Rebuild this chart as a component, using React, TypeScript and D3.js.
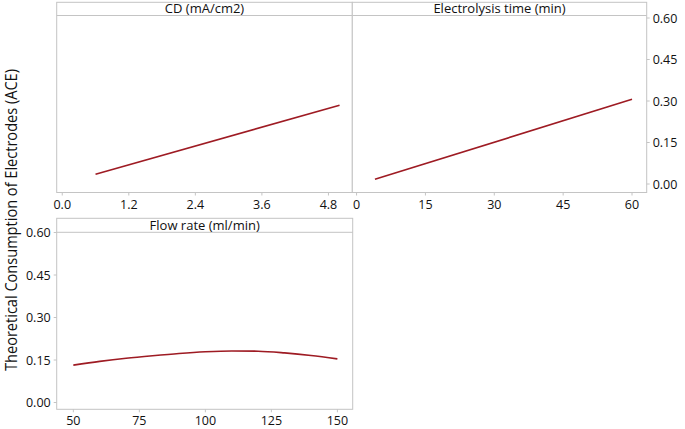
import React from "react";
import * as d3 from "d3";

const cdX = [0.6, 5.0];
const cdY = [0.035, 0.285];
const timeX = [4, 60];
const timeY = [0.017, 0.306];
const flowX = [50, 60, 70, 80, 90, 100, 110, 120, 130, 140, 150];
const flowY = [0.132, 0.145, 0.156, 0.165, 0.173, 0.179, 0.182, 0.181, 0.175, 0.166, 0.154];

const cdTicks = [0, 1.2, 2.4, 3.6, 4.8];
const timeTicks = [0, 15, 30, 45, 60];
const flowTicks = [50, 75, 100, 125, 150];
const yTicks = [0, 0.15, 0.3, 0.45, 0.6];

const titles = ["CD (mA/cm2)", "Electrolysis time (min)", "Flow rate (ml/min)"];
const yTitle = "Theoretical Consumption of Electrodes (ACE)";

const FONT = "'Open Sans', 'Noto Sans', sans-serif";
const FRAME = "#c4c4c4";
const LINE = "#9e1b23";
const TEXT = "#111";

type PanelProps = {
  left: number; right: number; top: number; stripBottom: number; bottom: number;
  xDomain: [number, number]; yRange: [number, number];
  xs: number[]; ys: number[]; xTicks: number[]; xFmt: (v: number) => string;
  title: string; yAxis: "left" | "right" | "none"; curved?: boolean;
};

function Panel(p: PanelProps) {
  const x = d3.scaleLinear().domain(p.xDomain).range([p.left, p.right]);
  const y = d3.scaleLinear().domain([0, 0.6]).range(p.yRange);
  const pts = p.xs.map((v, i) => [v, p.ys[i]] as [number, number]);
  const line = d3.line<[number, number]>()
    .x(d => x(d[0])).y(d => y(d[1]))
    .curve(p.curved ? d3.curveMonotoneX : d3.curveLinear);
  return (
    <g>
      <rect x={p.left} y={p.top} width={p.right - p.left} height={p.bottom - p.top}
        fill="white" stroke={FRAME} strokeWidth={1} />
      <line x1={p.left} x2={p.right} y1={p.stripBottom} y2={p.stripBottom} stroke={FRAME} />
      <text x={(p.left + p.right) / 2} y={p.stripBottom - 2.5} textAnchor="middle"
        fontFamily={FONT} fontSize={13} fill={TEXT}>{p.title}</text>
      <path d={line(pts) || ""} fill="none" stroke={LINE} strokeWidth={1.6} />
      {p.xTicks.map(t => (
        <g key={t}>
          <line x1={x(t)} x2={x(t)} y1={p.bottom} y2={p.bottom + 3} stroke={FRAME} />
          <text x={x(t)} y={p.bottom + 16} textAnchor="middle" fontFamily={FONT}
            fontSize={12.5} fill={TEXT}>{p.xFmt(t)}</text>
        </g>
      ))}
      {p.yAxis !== "none" && yTicks.map(t => (
        <g key={t}>
          {p.yAxis === "right" ? (
            <>
              <line x1={p.right} x2={p.right + 3} y1={y(t)} y2={y(t)} stroke={FRAME} />
              <text x={p.right + 6} y={y(t) + 4.5} textAnchor="start" fontFamily={FONT}
                fontSize={12.5} fill={TEXT}>{d3.format(".2f")(t)}</text>
            </>
          ) : (
            <>
              <line x1={p.left - 3} x2={p.left} y1={y(t)} y2={y(t)} stroke={FRAME} />
              <text x={p.left - 6} y={y(t) + 4.5} textAnchor="end" fontFamily={FONT}
                fontSize={12.5} fill={TEXT}>{d3.format(".2f")(t)}</text>
            </>
          )}
        </g>
      ))}
    </g>
  );
}

export default function App() {
  return (
    <svg width={685} height={429} style={{ position: "absolute", left: 0, top: 0, background: "white" }}>
      <Panel left={56.7} right={352.3} top={2.3} stripBottom={15.5} bottom={192.5}
        xDomain={[-0.1, 5.23]} yRange={[184, 18]} xs={cdX} ys={cdY}
        xTicks={cdTicks} xFmt={d3.format(".1f")} title={titles[0]} yAxis="none" />
      <Panel left={352.3} right={646.7} top={2.3} stripBottom={15.5} bottom={192.5}
        xDomain={[-0.93, 63.2]} yRange={[184, 18]} xs={timeX} ys={timeY}
        xTicks={timeTicks} xFmt={d3.format("d")} title={titles[1]} yAxis="right" />
      <Panel left={56.7} right={352.7} top={218.3} stripBottom={232.3} bottom={409.3}
        xDomain={[43.7, 155.8]} yRange={[402.5, 232.5]} xs={flowX} ys={flowY}
        xTicks={flowTicks} xFmt={d3.format("d")} title={titles[2]} yAxis="left" curved />
      <text transform="translate(17,220) rotate(-90)" textAnchor="middle"
        fontFamily={FONT} fontSize={16} fill={TEXT}
        textLength={302} lengthAdjust="spacingAndGlyphs">{yTitle}</text>
    </svg>
  );
}
